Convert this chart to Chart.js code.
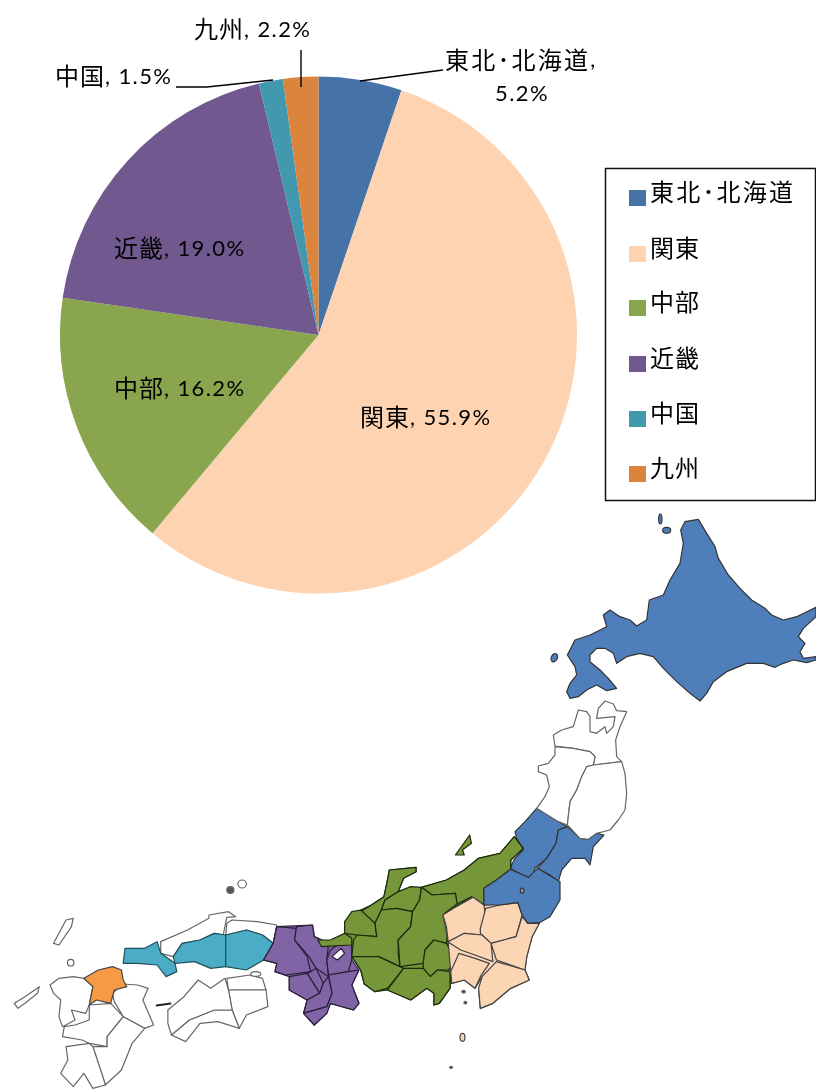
<!DOCTYPE html>
<html lang="ja"><head><meta charset="utf-8">
<script src="https://cdn.jsdelivr.net/npm/chart.js@4"></script>
<style>
html,body{margin:0;padding:0;background:#fff}
#wrap{position:relative;width:816px;height:1090px;overflow:hidden}
svg,canvas{position:absolute;left:0;top:0}
svg{filter:blur(.5px)}
canvas{filter:blur(.3px)}
polygon,ellipse{vector-effect:non-scaling-stroke;stroke-width:1.2;stroke-linejoin:round}
.w polygon,.w ellipse{fill:#fff;stroke:#666}
.b *{fill:#4f7fbb;stroke:#333}.p *{fill:#fcd5b5;stroke:#444}.g *{fill:#76963a;stroke:#1d2a0c}
.v *{fill:#8064a6;stroke:#2a1f3a}.t *{fill:#4bacc6;stroke:#20505c}
</style></head><body>
<div id="wrap">
<svg width="816" height="1090" viewBox="0 0 816 1090">
 <g transform="translate(450,500) scale(.33333)">
  <g class="b">
   <polygon points="705,65 745,58 770,100 795,140 805,175 835,225 870,265 905,300 945,325 965,345 1000,360 1040,350 1098,322 1098,350 1060,385 1045,410 1065,430 1050,455 1060,475 1098,470 1098,480 1070,488 1030,480 1000,490 975,502 940,490 890,490 830,515 790,545 770,580 750,603 720,580 680,545 640,505 610,470 570,460 530,470 500,490 490,460 465,445 440,445 420,465 420,485 450,510 475,535 500,565 470,572 440,555 410,570 385,590 360,595 350,575 360,550 380,525 375,500 352,465 375,420 420,405 470,380 460,345 480,330 510,350 540,360 560,378 590,360 598,300 640,285 660,240 690,190 700,130 692,90"/>
   <ellipse cx="650" cy="91" rx="12" ry="9"/><ellipse cx="631" cy="57" rx="5" ry="15"/>
   <ellipse cx="313" cy="473" rx="9" ry="13" transform="rotate(25 313 473)"/>
   <polygon points="260,925 325,965 352,980 325,990 318,1030 290,1075 255,1105 245,1135 215,1125 180,1105 195,1075 220,1050 200,1015 195,995 225,965"/>
   <polygon points="352,980 390,1015 415,1018 440,1000 462,1005 430,1040 420,1095 405,1075 365,1075 335,1110 325,1145 300,1125 262,1105 290,1075 318,1030 325,990"/>
  </g>
  <g class="w">
   <polygon points="465,603 490,612 500,632 530,635 510,680 497,720 500,770 515,785 430,795 435,770 420,755 370,745 315,738 310,705 335,690 370,680 385,630 410,635 420,650 420,695 440,700 465,680 470,700 490,680 495,650 440,655 445,625"/>
   <polygon points="315,740 370,745 420,755 435,770 430,795 410,800 395,830 380,870 360,905 352,975 325,965 260,925 285,890 298,860 290,825 265,815 265,798 295,790 315,765"/>
   <polygon points="430,795 515,785 525,820 530,880 525,930 505,960 480,990 440,1000 415,1018 390,1015 352,975 360,905 380,870 395,830 410,800"/>
  </g>
 </g>
 <g transform="translate(0,780) scale(.35714,.33333)">
  <g class="w">
   <polygon points="140,615 165,595 205,590 235,595 260,620 250,675 240,700 200,690 210,720 175,740 165,710 170,660 150,640"/>
   <polygon points="345,612 385,615 415,625 400,660 430,735 405,745 345,710 320,665 315,640"/>
   <polygon points="250,675 310,670 345,710 300,770 300,800 250,790 230,780 175,770 180,740 210,735 250,720"/>
   <polygon points="345,710 405,745 370,790 340,870 295,915 260,800 300,800 300,770"/>
   <polygon points="185,800 250,790 260,800 285,880 295,915 260,925 235,880 205,920 170,880 190,840"/>
   <polygon points="635,595 700,585 735,595 745,630 640,630"/>
   <polygon points="640,630 745,630 750,680 690,705 670,745 650,690"/>
   <polygon points="480,765 530,720 600,690 650,690 670,745 610,725 560,730 520,785"/>
   <polygon points="470,690 515,650 555,600 590,625 630,595 640,630 650,690 600,690 530,720 480,765 470,730"/>
   <ellipse cx="716" cy="582" rx="14" ry="7"/>
   <polygon points="450,485 525,450 585,415 585,405 640,395 660,410 635,412 625,465 600,460 560,480 510,490 485,530 450,520"/>
   <polygon points="650,420 720,425 775,435 765,490 735,465 690,450 632,465 635,430"/>
   <ellipse cx="645" cy="330" rx="10" ry="10" style="fill:#555"/><ellipse cx="678" cy="312" rx="12" ry="12"/>
   <polygon points="150,490 185,420 205,415 200,440 165,495"/>
   <ellipse cx="198" cy="548" rx="9" ry="10"/>
   <polygon points="40,670 70,650 110,620 105,640 70,670 50,685"/>
   <polygon points="438,675 478,669 478,672 438,678" style="stroke:#222"/>
  </g>
  <g class="t">
   <polygon points="345,550 350,505 405,505 440,485 450,520 490,550 495,575 465,590 440,555 385,550"/>
   <polygon points="485,530 510,490 560,480 600,460 632,465 632,560 590,565 545,545 490,550"/>
   <polygon points="632,465 690,450 735,465 765,490 738,540 690,570 632,560"/>
  </g>
  <polygon points="235,595 275,570 315,560 340,570 345,600 355,620 320,630 310,670 270,660 250,675 260,620" style="fill:#f79a46;stroke:#444"/>
  <g class="v">
   <polygon points="775,440 875,435 880,470 920,490 965,480 985,490 985,540 1005,570 985,615 1005,670 990,690 925,670 915,700 880,735 850,700 860,660 810,630 810,590 770,575 775,550 738,540 765,490"/>
   <polygon points="775,440 830,445 825,480 860,530 870,575 800,585 770,575 775,550 738,540 765,490"/>
   <polygon points="830,440 875,435 880,470 920,490 915,540 920,590 885,565 865,530 825,480"/>
   <polygon points="925,510 965,480 985,490 985,540 975,575 920,585 915,540"/>
   <polygon points="870,575 885,565 905,610 895,640 860,580"/>
   <polygon points="810,590 860,580 895,640 860,660 810,630"/>
   <polygon points="895,640 905,610 920,590 930,640 915,680 850,700 860,660"/>
   <polygon points="920,585 975,575 1005,570 985,615 1005,670 990,690 925,670 915,700 880,735 850,700 915,680 930,640"/>
   <polygon points="930,530 955,505 965,520 945,540" style="fill:#fff"/>
  </g>
  <g class="g">
   <polygon points="1090,270 1165,262 1165,275 1130,295 1115,335 1180,322 1250,300 1300,270 1340,235 1400,220 1440,170 1465,205 1430,240 1430,268 1355,325 1355,375 1320,350 1240,405 1255,485 1262,575 1260,625 1230,670 1215,675 1215,640 1195,625 1150,660 1085,630 1050,635 1020,612 1010,570 985,530 985,490 965,460 965,425 1010,390 1040,375 1075,350 1085,300"/>
   <polygon points="1440,170 1465,205 1430,240 1430,268 1390,300 1355,325 1355,375 1320,350 1280,372 1275,340 1210,345 1180,322 1250,300 1300,270 1340,235 1400,220"/>
   <polygon points="1090,270 1165,262 1165,275 1130,295 1115,335 1078,360 1068,390 1050,430 1010,395 1040,375 1075,350 1085,300"/>
   <polygon points="1115,335 1150,320 1180,322 1175,360 1155,395 1110,385 1068,390 1078,360"/>
   <polygon points="1010,390 1050,430 1055,470 1000,465 965,460 965,425 985,395"/>
   <polygon points="890,480 925,480 965,460 985,475 985,495 900,500"/>
   <polygon points="1068,390 1110,385 1155,395 1150,440 1115,480 1115,520 1120,560 1060,530 1030,530 985,530 990,480 1000,465 1055,470 1050,430"/>
   <polygon points="1180,322 1210,345 1275,340 1280,372 1245,400 1255,440 1250,490 1215,480 1190,510 1185,550 1120,560 1115,480 1150,440 1155,395 1175,360"/>
   <polygon points="1190,510 1215,480 1250,490 1280,545 1255,570 1225,570 1205,590 1185,565 1185,550"/>
   <polygon points="985,530 1030,530 1060,530 1120,560 1130,565 1085,625 1050,635 1020,612 1010,570"/>
   <polygon points="1130,565 1185,565 1205,590 1225,570 1260,575 1260,625 1230,670 1215,675 1215,640 1195,625 1150,660 1085,630"/>
   <polygon points="1275,225 1315,165 1320,190 1295,210 1300,225"/>
  </g>
  <g class="p">
   <polygon points="1240,405 1325,352 1355,375 1450,368 1478,430 1510,430 1490,470 1475,530 1470,570 1482,600 1430,625 1380,670 1345,685 1340,625 1375,605 1390,585 1350,590 1330,625 1300,600 1265,610 1262,575 1255,485"/>
   <polygon points="1240,405 1270,385 1325,352 1355,375 1360,410 1345,445 1350,465 1300,460 1255,485 1250,440"/>
   <polygon points="1360,385 1400,375 1450,368 1462,405 1445,470 1375,490 1345,460 1345,445"/>
   <polygon points="1462,410 1478,430 1510,430 1490,470 1475,530 1470,570 1390,540 1375,490 1445,470"/>
   <polygon points="1255,485 1300,460 1350,465 1375,490 1380,545 1330,525 1290,510 1260,490"/>
   <polygon points="1285,520 1330,535 1370,550 1345,590 1330,625 1300,600 1265,610 1262,575"/>
   <polygon points="1390,545 1470,570 1482,600 1430,625 1380,670 1345,685 1340,625 1350,590"/>
   <ellipse cx="1295" cy="772" rx="7" ry="12"/>
  </g>
  <g class="b">
   <polygon points="1430,268 1480,292 1505,265 1568,305 1568,360 1540,410 1510,428 1478,430 1462,405 1450,368 1400,375 1355,375 1355,325 1390,300"/>
   <ellipse cx="1462" cy="332" rx="5" ry="8" style="fill:#999"/>
  </g>
  <g class="w">
   <ellipse cx="1298" cy="635" rx="5" ry="4" style="fill:#444"/><ellipse cx="1303" cy="668" rx="4" ry="4" style="fill:#444"/><ellipse cx="1263" cy="862" rx="4" ry="3" style="fill:#333"/>
  </g>
 </g>
</svg>
<canvas id="c" width="816" height="1090"></canvas>
</div>
<script>
const categories = ['東北･北海道','関東','中部','近畿','中国','九州'];
const shares = [5.2,55.9,16.2,19.0,1.5,2.2];
const tickLabels = ['5.2%','55.9%','16.2%','19.0%','1.5%','2.2%'];
const sliceColors = ['#4572A7','#FDD3B2','#89A54E','#71588F','#4198AF','#DB843D'];

const CJK = '24px "Noto Sans CJK JP"';
const NUM = '22px Lato, "Noto Sans"';
// label anchors: left x, vertical centre y
const labelPos = [null,[360,417],[114,388],[114,248],[55,76],[194,29]];
const leaderLines = [[[360,81],[443,70]],[[176,87],[207,87],[273,80]],[[301,50],[301,87]]];
const legendRowsY = [198,254,308,364,419,474];

const overlay = {
  id:'overlay',
  afterDraw(chart){
    const x = chart.ctx;
    x.save();
    x.textBaseline='middle'; x.textAlign='left'; x.fillStyle='#000';
    labelPos.forEach((p,i)=>{
      if(!p) return;
      x.letterSpacing='1px'; x.font=CJK; x.fillText(categories[i],p[0],p[1]);
      const w=x.measureText(categories[i]).width;
      x.letterSpacing='1.4px'; x.font=NUM; x.fillText(', '+tickLabels[i],p[0]+w,p[1]+1);
    });
    x.letterSpacing='2.2px'; x.font=CJK; x.fillText(categories[0],445,60);
    const w0=x.measureText(categories[0]).width;
    x.letterSpacing='1.4px'; x.font=NUM; x.fillText(',',445+w0,60);
    x.fillText(tickLabels[0],495,94);
    x.strokeStyle='#000'; x.lineWidth=1.4;
    leaderLines.forEach(l=>{x.beginPath();l.forEach((q,j)=>j?x.lineTo(q[0],q[1]):x.moveTo(q[0],q[1]));x.stroke();});
    // legend
    x.fillStyle='#fff'; x.fillRect(605.5,168.5,210,332);
    x.strokeStyle='#111'; x.lineWidth=1.5; x.strokeRect(605.5,168.5,210,332);
    categories.forEach((c,i)=>{
      x.fillStyle=sliceColors[i]; x.fillRect(629,legendRowsY[i]-8,17,16);
      x.letterSpacing=i===0?'2.2px':'1px';
      x.fillStyle='#000'; x.font=CJK; x.fillText(c,650,legendRowsY[i]-6);
    });
    x.restore();
  }
};
new Chart(document.getElementById('c'),{
  type:'pie',
  data:{labels:categories,datasets:[{data:shares,backgroundColor:sliceColors,borderWidth:0}]},
  options:{responsive:false,animation:false,
    layout:{padding:{left:60,right:239,top:76,bottom:496}},
    plugins:{legend:{display:false},tooltip:{enabled:false},title:{display:false}}},
  plugins:[overlay]
});
</script>
</body></html>
